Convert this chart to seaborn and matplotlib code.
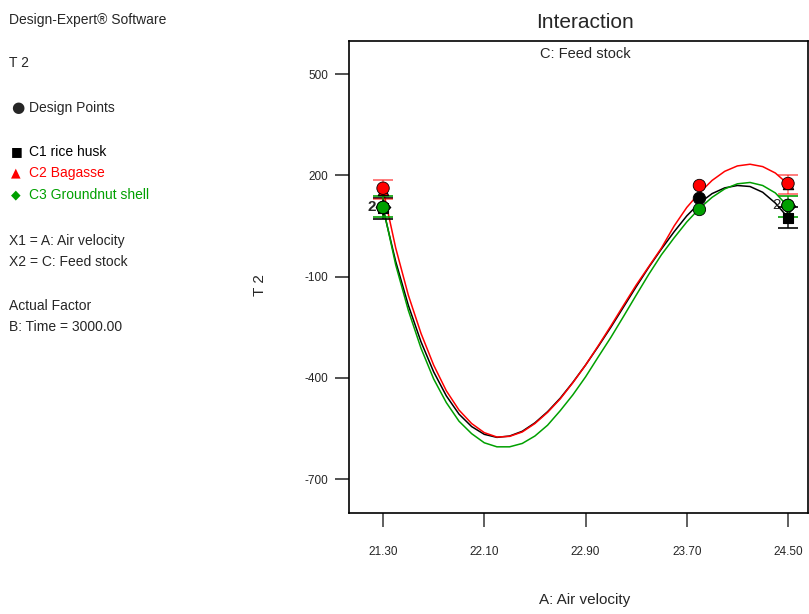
import matplotlib
matplotlib.use("Agg")
import pandas as pd
import matplotlib.pyplot as plt
import seaborn as sns

# --- data (T 2 vs A: Air velocity, per feed stock) ---
air_velocity = [21.3, 21.4, 21.5, 21.6, 21.7, 21.8, 21.9, 22.0, 22.1, 22.2, 22.3,
                22.4, 22.5, 22.6, 22.7, 22.8, 22.9, 23.0, 23.1, 23.2, 23.3, 23.4,
                23.5, 23.6, 23.7, 23.8, 23.9, 24.0, 24.1, 24.2, 24.3, 24.4, 24.5]

t2_rice_husk = [102, -55, -185, -293, -382, -453, -507, -544, -567, -576, -572,
                -558, -533, -500, -460, -413, -362, -307, -250, -190, -130, -72,
                -18, 33, 80, 118, 146, 163, 170, 167, 150, 118, 75]

t2_bagasse = [158, -15, -155, -268, -362, -438, -495, -535, -562, -575, -573,
              -560, -535, -502, -462, -414, -362, -305, -246, -185, -125, -70,
              -15, 50, 105, 148, 185, 212, 228, 233, 226, 207, 174]

t2_groundnut = [107, -65, -200, -312, -403, -473, -528, -565, -592, -604, -604,
                -594, -572, -540, -497, -450, -397, -338, -280, -218, -155, -93,
                -35, 15, 62, 102, 135, 160, 175, 179, 170, 148, 108]

feed_names = ["C1 rice husk", "C2 Bagasse", "C3 Groundnut shell"]
feed_colors = ["#000000", "#ff0000", "#00a000"]
feed_markers = ["s", "^", "D"]

# design points (A level, T 2)
design_A = [21.3, 23.8, 24.5]
design_rice_husk = [105, 132, 111]
design_bagasse = [162, 170, 176]
design_groundnut = [105, 99, 111]
design_counts_groundnut = [2, 1, 2]

lsd_half = [31, 28, 31]   # LSD bar half-length per feed stock

x_ticks = [21.3, 22.1, 22.9, 23.7, 24.5]
x_tick_labels = ["21.30", "22.10", "22.90", "23.70", "24.50"]
y_ticks = [-700, -400, -100, 200, 500]

curves = pd.DataFrame({
    "A": air_velocity * 3,
    "T2": t2_rice_husk + t2_bagasse + t2_groundnut,
    "Feed": sum([[n] * len(air_velocity) for n in feed_names], []),
})
design = pd.DataFrame({
    "A": design_A * 3,
    "T2": design_rice_husk + design_bagasse + design_groundnut,
    "Feed": sum([[n] * len(design_A) for n in feed_names], []),
})

sns.set_style("white")
plt.rcParams["font.family"] = ["Liberation Sans", "DejaVu Sans"]

fig = plt.figure(figsize=(8.09, 6.14), dpi=100)
ax = fig.add_axes([349 / 809, 1 - 513 / 614, 459 / 809, 472 / 614])

palette = dict(zip(feed_names, feed_colors))
sns.lineplot(data=curves, x="A", y="T2", hue="Feed", palette=palette,
             estimator=None, sort=True, linewidth=1.1, legend=False, ax=ax)

# LSD bars and end markers at the two ends of each curve
for name, col, mk, half, vals in zip(feed_names, feed_colors, feed_markers, lsd_half,
                                     [t2_rice_husk, t2_bagasse, t2_groundnut]):
    ends_x = [air_velocity[0], air_velocity[-1]]
    ends_y = [vals[0], vals[-1]]
    ax.errorbar(ends_x, ends_y, yerr=half, fmt="none", ecolor=col,
                elinewidth=1.1, capsize=7, capthick=1.3,
                alpha=0.55 if col == "#ff0000" else 0.9, zorder=3)
    ax.scatter(ends_x, ends_y, marker=mk, s=55, color=col,
               edgecolor="black", linewidth=0.8, zorder=4)

# design points
sns.scatterplot(data=design, x="A", y="T2", hue="Feed", palette=palette,
                s=80, edgecolor="black", linewidth=0.6, legend=False, ax=ax, zorder=5)

for a, v, n in zip(design_A, design_groundnut, design_counts_groundnut):
    if n > 1:
        ax.annotate(str(n), (a, v), xytext=(-8, 0), textcoords="offset points",
                    ha="center", va="center", fontsize=11,
                    fontweight="bold" if a == design_A[0] else "normal")

ax.set_xlim(21.031, 24.658)
ax.set_ylim(-800, 598)
ax.set_xticks(x_ticks)
ax.set_xticklabels(x_tick_labels)
ax.set_yticks(y_ticks)
ax.set_yticklabels([str(v) for v in y_ticks])
ax.tick_params(axis="x", bottom=True, direction="out", length=10, width=1.2, pad=14,
               labelsize=8.5, color="#444444")
ax.tick_params(axis="y", left=True, direction="out", length=10, width=1.2, pad=5,
               labelsize=8.5, color="#333333")
for tick in ax.yaxis.get_major_ticks()[-2:]:
    tick.tick1line.set_color("#888888")
for sp in ax.spines.values():
    sp.set_visible(True)
    sp.set_color("black")
    sp.set_linewidth(1.2)

ax.set_xlabel("A: Air velocity", fontsize=11)
ax.xaxis.set_label_coords(0.514, -0.17)
ax.set_ylabel("T 2", fontsize=11)
ax.yaxis.set_label_coords(-0.178, 0.483)

fig.text(585 / 809, 1 - 22 / 614, "Interaction", fontsize=15, ha="center", va="center")
fig.text(585 / 809, 1 - 54 / 614, "C: Feed stock", fontsize=10.5, ha="center", va="center")

# left info panel
fs = 10
fig.text(9 / 809, 1 - 20 / 614, "Design-Expert® Software", fontsize=fs, va="center")
fig.text(9 / 809, 1 - 63 / 614, "T 2", fontsize=fs, va="center")
fig.text(11 / 809, 1 - 107 / 614, "●", fontsize=11, va="center", family=["DejaVu Sans"])
fig.text(29 / 809, 1 - 108 / 614, "Design Points", fontsize=fs, va="center")
sym_y = [152, 173, 195]
symbols = ["■", "▲", "◆"]
for y, s, n, c in zip(sym_y, symbols, feed_names, feed_colors):
    fig.text(11 / 809, 1 - y / 614, s, fontsize=9, va="center", color=c,
             family=["DejaVu Sans"])
    fig.text(29 / 809, 1 - y / 614, n, fontsize=fs, va="center", color=c)
fig.text(9 / 809, 1 - 241 / 614, "X1 = A: Air velocity", fontsize=fs, va="center")
fig.text(9 / 809, 1 - 262 / 614, "X2 = C: Feed stock", fontsize=fs, va="center")
fig.text(9 / 809, 1 - 306 / 614, "Actual Factor", fontsize=fs, va="center")
fig.text(9 / 809, 1 - 327 / 614, "B: Time = 3000.00", fontsize=fs, va="center")

fig.savefig("out.png", dpi=100)
